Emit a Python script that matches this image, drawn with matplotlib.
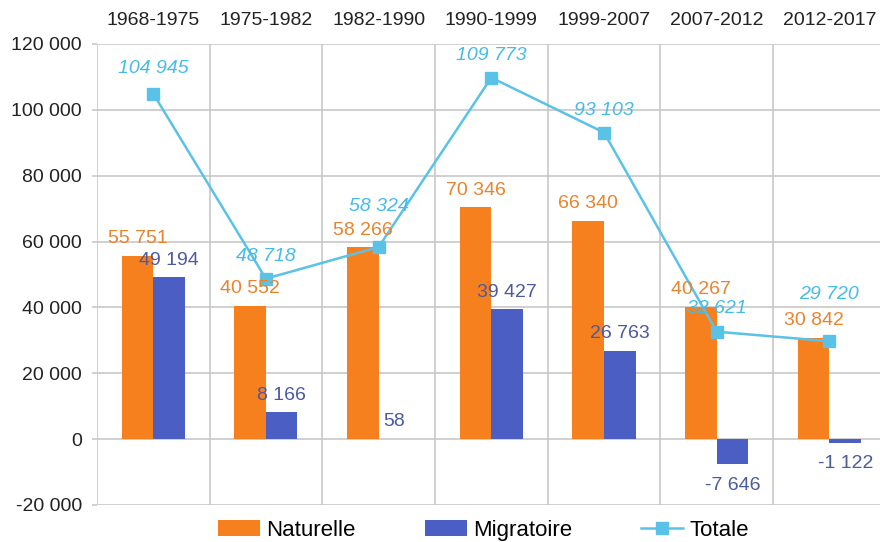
import matplotlib.pyplot as plt
import numpy as np

plt.rcParams['font.family'] = ['Liberation Sans', 'DejaVu Sans']

# Données
periodes = ['1968-1975', '1975-1982', '1982-1990', '1990-1999',
            '1999-2007', '2007-2012', '2012-2017']
naturelle = [55751, 40552, 58266, 70346, 66340, 40267, 30842]
migratoire = [49194, 8166, 58, 39427, 26763, -7646, -1122]
totale = [104945, 48718, 58324, 109773, 93103, 32621, 29720]
# décalage vertical (px) des étiquettes de la courbe
dy_totale = [25, 22, 41, 22, 22, 23, 47]

c_nat = '#F7801E'
c_mig = '#4A5EC4'
c_tot = '#5BC2E7'

x = np.arange(len(periodes))
w = 0.28

fig = plt.figure(figsize=(8.8, 5.42), dpi=100)
ax = fig.add_axes([0.110, 0.0683, 0.8966, 0.8506])

b1 = ax.bar(x - w / 2, naturelle, w, color=c_nat, label='Naturelle', zorder=3)
b2 = ax.bar(x + w / 2, migratoire, w, color=c_mig, label='Migratoire', zorder=3)
l1, = ax.plot(x, totale, color=c_tot, lw=1.8, marker='s', markersize=8.5,
              label='Totale', zorder=4)

px = 0.72  # points par pixel
fs = 14
for i in range(len(x)):
    ax.annotate(f'{naturelle[i]:,}'.replace(',', ' '),
                (x[i] - w / 2, naturelle[i]), xytext=(0, 17 * px),
                textcoords='offset points', ha='center', va='center',
                color='#E8842E', fontsize=fs, zorder=5)
    m = migratoire[i]
    off = 17 if m >= 0 else -21
    ax.annotate(f'{m:,}'.replace(',', ' '),
                (x[i] + w / 2, m), xytext=(0, off * px),
                textcoords='offset points', ha='center', va='center',
                color='#4C5A9E', fontsize=fs, zorder=5)
    ax.annotate(f'{totale[i]:,}'.replace(',', ' '),
                (x[i], totale[i]), xytext=(0, dy_totale[i] * px),
                textcoords='offset points', ha='center', va='center',
                color='#45BCE6', fontsize=fs, style='italic', zorder=5)

ax.set_xlim(-0.5, len(x) - 0.5)
ax.set_ylim(-20000, 120000)
ax.set_yticks(np.arange(-20000, 120001, 20000))
ax.set_yticklabels([f'{v:,}'.replace(',', ' ') for v in range(-20000, 120001, 20000)])
ax.set_xticks(x)
ax.set_xticklabels(periodes)
ax.set_xticks(np.arange(-0.5, len(x), 1), minor=True)
ax.xaxis.tick_top()
ax.tick_params(axis='x', which='both', length=0, pad=11, labelsize=fs,
               labelcolor='#222222')
ax.tick_params(axis='y', length=3.6, color='#c8c8c8', width=1.2, pad=7,
               labelsize=fs, labelcolor='#222222')
ax.grid(axis='y', color='#c8c8c8', lw=1.2, zorder=0)
ax.grid(axis='x', which='minor', color='#c8c8c8', lw=1.2, zorder=0)
ax.grid(axis='x', which='major', visible=False)
for s in ax.spines.values():
    s.set_visible(False)

ax.legend([b1, b2, l1], ['Naturelle', 'Migratoire', 'Totale'],
          loc='upper center', bbox_to_anchor=(0.49, -0.008), ncol=3,
          frameon=False, fontsize=16, handlelength=1.9, columnspacing=3.1,
          handletextpad=0.27, borderaxespad=0.1)

plt.savefig('out.png', dpi=100)
plt.close()
